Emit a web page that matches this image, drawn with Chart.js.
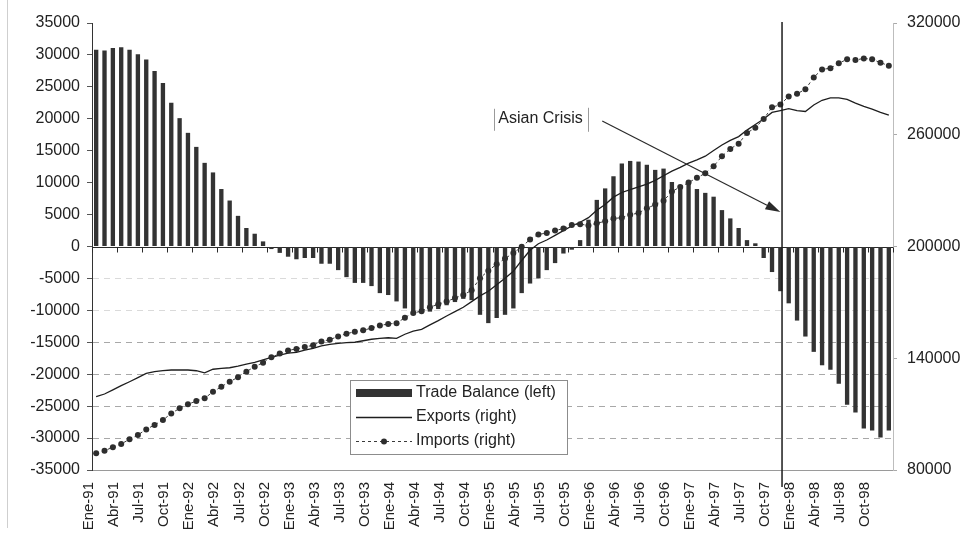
<!DOCTYPE html>
<html>
<head>
<meta charset="utf-8">
<script src="https://cdn.jsdelivr.net/npm/chart.js@4.4.1/dist/chart.umd.min.js"></script>
<style>
  html, body { margin: 0; padding: 0; background: #fff; }
  #wrap { position: relative; width: 965px; height: 555px; }
  canvas { display: block; }
</style>
</head>
<body>
<div id="wrap"><canvas id="chart" width="965" height="555"></canvas></div>
<script>
// Month labels, Ene-91 .. Dic-98
const monthNames = ['Ene', 'Feb', 'Mar', 'Abr', 'May', 'Jun', 'Jul', 'Ago', 'Sep', 'Oct', 'Nov', 'Dic'];
const yearTags = ['91', '92', '93', '94', '95', '96', '97', '98'];
const months = yearTags.flatMap(yr => monthNames.map(m => m + '-' + yr));

// Trade balance (left axis)
const tradeBalance = [
  30800, 30700, 31100, 31200, 30800, 30100, 29300, 27500, 25600, 22500, 20100, 17800,
  15600, 13100, 11600, 9000, 7200, 4800, 2900, 2000, 800, -400, -1000, -1600,
  -2000, -1800, -1800, -2700, -2700, -3700, -4800, -5700, -5700, -6200, -7300, -7600,
  -8600, -9700, -10500, -10400, -10200, -9800, -9200, -8700, -8200, -8400, -10700, -12000,
  -11200, -10700, -9700, -7300, -5800, -5000, -3700, -2600, -1100, -500, 1000, 4200,
  7300, 9100, 11000, 13000, 13400, 13300, 12800, 12000, 12200, 10100, 9600, 10100,
  9000, 8400, 7800, 5700, 4400, 2900, 1000, 500, -1800, -4000, -7000, -8900,
  -11600, -14100, -16500, -18600, -19300, -21500, -24800, -26000, -28500, -28800, -29900, -28800
];

// Exports (right axis)
const exportsRight = [
  119400, 120800, 123000, 125300, 127400, 129600, 131900, 132800, 133300, 133700, 133700, 133700,
  133300, 132200, 134100, 134600, 134900, 135800, 136900, 137800, 139100, 140500, 141700, 142700,
  143200, 144400, 145300, 146600, 147500, 148000, 148400, 148600, 149400, 150200, 150700, 151000,
  150700, 152900, 154600, 155500, 157900, 160200, 162700, 165000, 167400, 170400, 173500, 176000,
  179500, 183000, 186700, 192500, 198000, 201500, 203500, 206000, 208500, 211000, 213000, 215500,
  219500, 222500, 226500, 229000, 230500, 232000, 233500, 235500, 238000, 240500, 242500, 244800,
  246500, 248500, 251500, 254500, 257000, 259000, 262500, 265500, 268500, 272000, 273000, 274000,
  273000, 272500, 276000, 278500, 279800, 279800, 279000, 277000, 275200, 273800, 272000, 270500
];

// Imports (right axis)
const importsRight = [
  89000, 90400, 92200, 94000, 96500, 98800, 101800, 104200, 106800, 110400, 113100, 115300,
  117000, 118500, 122000, 124700, 127400, 129800, 132800, 135500, 137600, 140500, 142500, 144200,
  145000, 146000, 147000, 149000, 150000, 151700, 153200, 154200, 155000, 156200, 157600, 158400,
  158800, 161800, 164300, 165300, 167400, 169000, 170500, 172300, 174000, 176500, 183000, 187000,
  190500, 193500, 196500, 199800, 203800, 206500, 207200, 208600, 209600, 211500, 212000, 211300,
  212500, 213500, 215000, 215500, 217000, 218000, 220500, 222500, 224500, 229500, 232000, 234300,
  236900, 239300, 243100, 248400, 252400, 255200, 261000, 263700, 268500, 274700, 276200, 280600,
  282000, 284400, 290800, 295100, 295700, 298400, 300500, 300100, 301000, 300500, 298700, 297100
];

// Axis ranges
const leftAxis = { min: -35000, max: 35000, step: 5000 };
const rightAxis = { min: 80000, max: 320000, step: 60000 };

// Annotation: crisis marker (category units on x, left-axis units on y)
const crisisAt = 82.2;
const crisisText = 'Asian Crisis';
const crisisLabelAt = { x: 48.2, y: 20000 };
const arrowFrom = { x: 60.65, y: 19650 };
const arrowTo = { x: 82.0, y: 5400 };

const FONT = "'Liberation Sans', Arial, Helvetica, sans-serif";
const INK = '#222';

const decor = {
  id: 'decor',
  beforeDatasetsDraw(chart) {
    // zero line acting as the category axis, with ticks every quarter
    const { ctx, chartArea: a, scales: { x, y } } = chart;
    const y0 = Math.round(y.getPixelForValue(0)) + 0.5;
    ctx.save();
    ctx.strokeStyle = '#2a2a2a';
    ctx.lineWidth = 1;
    ctx.beginPath();
    ctx.moveTo(a.left, y0);
    ctx.lineTo(a.right, y0);
    for (let i = 0; i <= months.length; i += 3) {
      const px = Math.round(x.getPixelForValue(i - 0.5)) + 0.5;
      ctx.moveTo(px, y0);
      ctx.lineTo(px, y0 + 5);
    }
    ctx.stroke();
    ctx.restore();
  },
  afterDraw(chart) {
    const { ctx, chartArea: a, scales: { x, y } } = chart;
    ctx.save();

    // page edge
    ctx.strokeStyle = '#cfcfcf';
    ctx.lineWidth = 1;
    ctx.beginPath();
    ctx.moveTo(7.5, 0);
    ctx.lineTo(7.5, 528);
    ctx.stroke();

    // crisis vertical line
    const cx = x.getPixelForValue(crisisAt);
    ctx.strokeStyle = '#1c1c1c';
    ctx.lineWidth = 1.5;
    ctx.beginPath();
    ctx.moveTo(cx, a.top - 1);
    ctx.lineTo(cx, a.bottom + 17);
    ctx.stroke();

    // arrow
    const x1 = x.getPixelForValue(arrowFrom.x), y1 = y.getPixelForValue(arrowFrom.y);
    const x2 = x.getPixelForValue(arrowTo.x), y2 = y.getPixelForValue(arrowTo.y);
    const ang = Math.atan2(y2 - y1, x2 - x1);
    const headLen = 15, headW = 4.5;
    ctx.strokeStyle = '#2a2a2a';
    ctx.lineWidth = 1.2;
    ctx.beginPath();
    ctx.moveTo(x1, y1);
    ctx.lineTo(x2 - headLen * Math.cos(ang), y2 - headLen * Math.sin(ang));
    ctx.stroke();
    ctx.fillStyle = '#2a2a2a';
    ctx.beginPath();
    ctx.moveTo(x2, y2);
    ctx.lineTo(x2 - headLen * Math.cos(ang) + headW * Math.sin(ang), y2 - headLen * Math.sin(ang) - headW * Math.cos(ang));
    ctx.lineTo(x2 - headLen * Math.cos(ang) - headW * Math.sin(ang), y2 - headLen * Math.sin(ang) + headW * Math.cos(ang));
    ctx.closePath();
    ctx.fill();

    // crisis label with side rules
    const lx = x.getPixelForValue(crisisLabelAt.x);
    const ly = y.getPixelForValue(crisisLabelAt.y);
    ctx.font = '16px ' + FONT;
    ctx.fillStyle = INK;
    ctx.textBaseline = 'middle';
    ctx.textAlign = 'left';
    ctx.fillText(crisisText, lx, ly);
    const tw = ctx.measureText(crisisText).width;
    ctx.strokeStyle = '#9a9a9a';
    ctx.lineWidth = 1;
    ctx.beginPath();
    ctx.moveTo(Math.round(lx - 4) + 0.5, ly - 10);
    ctx.lineTo(Math.round(lx - 4) + 0.5, ly + 12);
    ctx.moveTo(Math.round(lx + tw + 5) + 0.5, ly - 11);
    ctx.lineTo(Math.round(lx + tw + 5) + 0.5, ly + 13);
    ctx.stroke();

    // legend
    const lg = { x: 350, y: 380, w: 217, h: 74 };
    ctx.fillStyle = '#fff';
    ctx.fillRect(lg.x, lg.y, lg.w, lg.h);
    ctx.strokeStyle = '#8c8c8c';
    ctx.lineWidth = 1;
    ctx.strokeRect(lg.x + 0.5, lg.y + 0.5, lg.w, lg.h);
    const rows = [393, 417, 441];
    const sx0 = lg.x + 6, sx1 = lg.x + 62, tx = lg.x + 66;
    chart.data.datasets.forEach((ds, i) => {
      const ry = rows[i];
      if (ds.type === 'bar') {
        ctx.fillStyle = ds.backgroundColor;
        ctx.fillRect(sx0, ry - 4, sx1 - sx0, 8);
      } else {
        ctx.strokeStyle = ds.borderColor;
        ctx.lineWidth = ds.borderWidth;
        ctx.setLineDash(ds.borderDash || []);
        ctx.beginPath();
        ctx.moveTo(sx0, ry + 0.5);
        ctx.lineTo(sx1, ry + 0.5);
        ctx.stroke();
        ctx.setLineDash([]);
        if (ds.pointRadius > 0) {
          ctx.fillStyle = ds.pointBackgroundColor;
          ctx.beginPath();
          ctx.arc((sx0 + sx1) / 2, ry + 0.5, ds.pointRadius, 0, Math.PI * 2);
          ctx.fill();
        }
      }
      ctx.fillStyle = INK;
      ctx.font = '16px ' + FONT;
      ctx.textAlign = 'left';
      ctx.textBaseline = 'middle';
      ctx.fillText(ds.label, tx, ry);
    });

    ctx.restore();
  }
};

new Chart(document.getElementById('chart'), {
  type: 'bar',
  data: {
    labels: months,
    datasets: [
      {
        type: 'bar',
        label: 'Trade Balance (left)',
        data: tradeBalance,
        yAxisID: 'y',
        backgroundColor: '#333333',
        barPercentage: 0.52,
        categoryPercentage: 1,
        order: 3
      },
      {
        type: 'line',
        label: 'Exports (right)',
        data: exportsRight,
        yAxisID: 'y1',
        borderColor: '#1e1e1e',
        borderWidth: 1.3,
        pointRadius: 0,
        tension: 0,
        order: 2
      },
      {
        type: 'line',
        label: 'Imports (right)',
        data: importsRight,
        yAxisID: 'y1',
        borderColor: '#3a3a3a',
        borderWidth: 1,
        borderDash: [3, 3],
        pointRadius: 3,
        pointStyle: 'circle',
        pointBackgroundColor: '#2e2e2e',
        pointBorderColor: '#2e2e2e',
        pointBorderWidth: 0,
        tension: 0,
        order: 1
      }
    ]
  },
  options: {
    responsive: false,
    animation: false,
    devicePixelRatio: 1,
    layout: { padding: { top: 23, left: 0, right: 0, bottom: 0 } },
    plugins: { legend: { display: false }, tooltip: { enabled: false } },
    scales: {
      x: {
        offset: true,
        grid: { display: false, drawTicks: false },
        border: { display: true, color: '#9a9a9a' },
        ticks: {
          autoSkip: false,
          minRotation: 90,
          maxRotation: 90,
          padding: 12,
          labelOffset: -7,
          color: INK,
          font: { family: FONT, size: 15 },
          callback: (v, i) => (i % 3 === 0 ? months[i] : '')
        },
        afterFit: s => { s.height = 85; }
      },
      y: {
        position: 'left',
        min: leftAxis.min,
        max: leftAxis.max,
        ticks: {
          stepSize: leftAxis.step,
          color: INK,
          padding: 7,
          font: { family: FONT, size: 16 },
          callback: v => String(v)
        },
        grid: {
          color: c => {
            const v = c.tick ? c.tick.value : 0;
            if (v <= -15000 && v > leftAxis.min) return '#a8a8a8';
            if (v < 0 && v > leftAxis.min) return '#dadada';
            return 'rgba(0,0,0,0)';
          },
          tickColor: '#555',
          tickLength: 5,
          lineWidth: 1
        },
        border: { display: true, color: '#333', width: 1, dash: [6, 5] },
        afterFit: s => { s.width = 92; }
      },
      y1: {
        position: 'right',
        min: rightAxis.min,
        max: rightAxis.max,
        ticks: {
          stepSize: rightAxis.step,
          color: INK,
          padding: 10,
          font: { family: FONT, size: 16 },
          callback: v => String(v)
        },
        grid: { drawOnChartArea: false, tickLength: 4, tickColor: '#aaa' },
        border: { display: true, color: '#bdbdbd' },
        afterFit: s => { s.width = 72; }
      }
    }
  },
  plugins: [decor]
});
</script>
</body>
</html>
